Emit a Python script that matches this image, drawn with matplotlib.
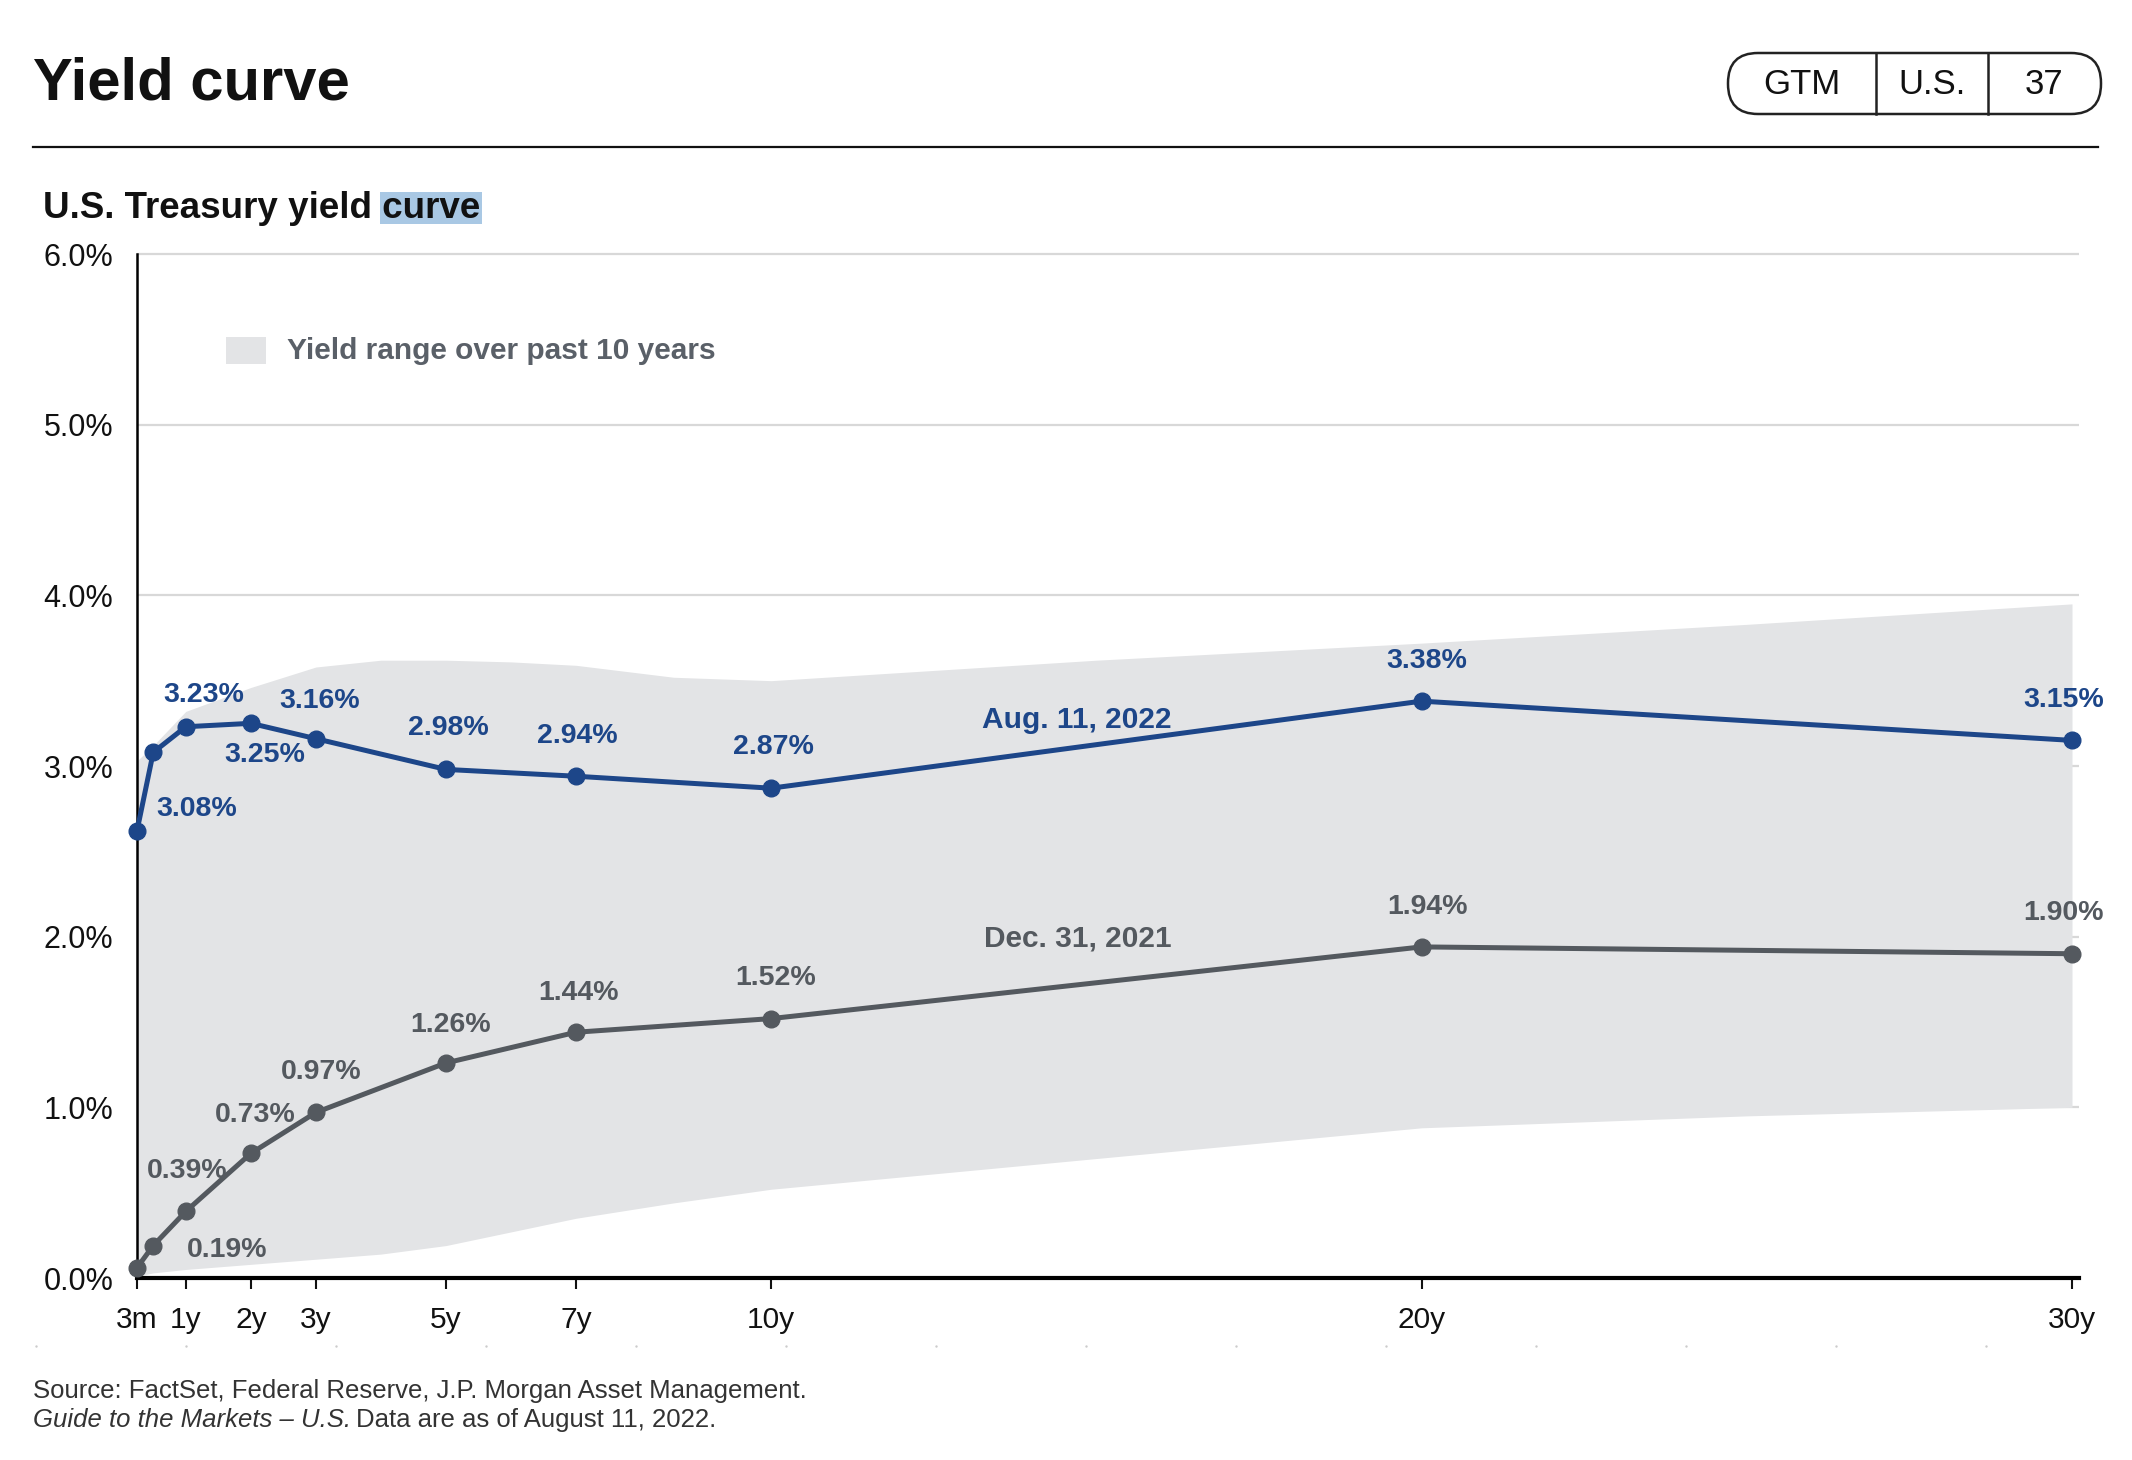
import matplotlib
matplotlib.use("Agg")
import matplotlib.pyplot as plt
from matplotlib.patches import FancyBboxPatch, Rectangle
import numpy as np

plt.rcParams['font.family'] = ['Liberation Sans', 'DejaVu Sans']

W, H, DPI = 2132, 1460, 100

# data
tenor_years = [0.25, 0.5, 1, 2, 3, 5, 7, 10, 20, 30]
aug_2022 = [2.62, 3.08, 3.23, 3.25, 3.16, 2.98, 2.94, 2.87, 3.38, 3.15]
dec_2021 = [0.06, 0.19, 0.39, 0.73, 0.97, 1.26, 1.44, 1.52, 1.94, 1.90]

# 10-year range band
band_years = [0.25, 0.5, 1, 2, 3, 4, 5, 6, 7, 8.5, 10, 15, 20, 25, 30]
band_high = [3.03, 3.12, 3.32, 3.46, 3.58, 3.62, 3.62, 3.61, 3.59, 3.52, 3.50, 3.62, 3.72, 3.83, 3.95]
band_low = [0.01, 0.03, 0.05, 0.08, 0.11, 0.14, 0.19, 0.27, 0.35, 0.44, 0.52, 0.70, 0.88, 0.95, 1.00]

tick_years = [0.25, 1, 2, 3, 5, 7, 10, 20, 30]
tick_labels = ['3m', '1y', '2y', '3y', '5y', '7y', '10y', '20y', '30y']
y_ticks = [0, 1, 2, 3, 4, 5, 6]

# label offsets (points), None = no label
aug_offsets = [None, (31, -41), (13, 23), (10, -23), (3, 27), (2, 30), (1, 29), (2, 30), (4, 29), (-6, 29)]
dec_offsets = [None, (53, -3), (1, 29), (3, 28), (4, 29), (3, 27), (2, 28), (3, 29), (4, 29), (-6, 29)]

BLUE = '#1d4689'
GREY = '#54595f'
BAND = '#e3e4e6'

fig = plt.figure(figsize=(W / DPI, H / DPI), dpi=DPI)
fig.patch.set_facecolor('white')

# pixel overlay for page furniture
bg = fig.add_axes([0, 0, 1, 1], zorder=0)
bg.set_xlim(0, W)
bg.set_ylim(H, 0)
bg.axis('off')

# main chart
x0, x30, y0px, y6px = 137, 2072, 1278, 254
xmin, xmax = 0.25, 30.1
ymax = 6.03
ax_w = (x30 - x0) * (xmax - xmin) / (30 - xmin)
ax_h = (y0px - y6px) * ymax / 6
ax = fig.add_axes([x0 / W, (H - y0px) / H, ax_w / W, ax_h / H], zorder=1)
ax.set_facecolor('none')
ax.set_xlim(xmin, xmax)
ax.set_ylim(0, ymax)

ax.set_yticks(y_ticks)
ax.set_yticklabels([f'{v:.1f}%' for v in y_ticks])
ax.set_xticks(tick_years)
ax.set_xticklabels(tick_labels)
ax.yaxis.grid(True, color='#d8d8d8', lw=1.6)
ax.set_axisbelow(True)
ax.tick_params(axis='y', length=0, pad=17, labelsize=22, colors='#111')
ax.tick_params(axis='x', length=8, width=1.5, pad=12, labelsize=21.5, colors='#111')
for s in ['top', 'right']:
    ax.spines[s].set_visible(False)
ax.spines['left'].set_linewidth(1.8)
ax.spines['bottom'].set_linewidth(3)
ax.spines['left'].set_bounds(0, 6)

ax.fill_between(band_years, band_low, band_high, color=BAND, lw=0, zorder=1)

for vals, col, offs in [(aug_2022, BLUE, aug_offsets), (dec_2021, GREY, dec_offsets)]:
    ax.plot(tenor_years, vals, color=col, lw=3.6, marker='o', ms=12,
            zorder=3, clip_on=False)
    for xv, yv, off in zip(tenor_years, vals, offs):
        if off is None:
            continue
        ax.annotate(f'{yv:.2f}%', (xv, yv), xytext=off, textcoords='offset points',
                    ha='center', va='center', fontsize=20.5, fontweight='bold',
                    color=col, zorder=4)

ax.text(14.70, 3.27, 'Aug. 11, 2022', ha='center', va='center', fontsize=21.5,
        fontweight='bold', color=BLUE, zorder=4)
ax.text(14.72, 1.99, 'Dec. 31, 2021', ha='center', va='center', fontsize=21.5,
        fontweight='bold', color=GREY, zorder=4)

# title + rule
bg.text(33, 99, 'Yield curve', fontsize=43, fontweight='bold', color='#111',
        ha='left', va='baseline')
bg.plot([33, 2098], [147, 147], color='#111', lw=1.6)

# badge
bg.add_patch(FancyBboxPatch((1728, 53), 373, 61, boxstyle='round,pad=0,rounding_size=30',
                            fc='none', ec='#222', lw=1.8))
for xd in [1876, 1988]:
    bg.plot([xd, xd], [53, 114], color='#222', lw=1.8)
for xt, s in [(1802, 'GTM'), (1932, 'U.S.'), (2044, '37')]:
    bg.text(xt, 85, s, fontsize=25, ha='center', va='center', color='#111')

# subtitle with highlighted word
fig.canvas.draw()
rend = fig.canvas.get_renderer()
sub = bg.text(43, 218, 'U.S. Treasury yield curve', fontsize=26.5, fontweight='bold',
              color='#111', ha='left', va='baseline', zorder=3)
probe = bg.text(0, 0, 'curve', fontsize=26.5, fontweight='bold', alpha=0)
ext = sub.get_window_extent(renderer=rend)
cw = probe.get_window_extent(renderer=rend).width
probe.remove()
bg.add_patch(Rectangle((ext.x1 - cw - 2, 192), cw + 4, 32, fc='#a9c8e4', ec='none', zorder=2))

# legend
bg.add_patch(Rectangle((226, 337), 40, 27, fc=BAND, ec='none'))
bg.text(287, 351, 'Yield range over past 10 years', fontsize=21.5, fontweight='bold',
        color='#5a6068', ha='left', va='center')

# faint dotted separator
dots_x = np.arange(36, 2110, 150)
bg.scatter(dots_x, np.full(len(dots_x), 1346), s=3, color='#cccccc', lw=0)

# footer
bg.text(33, 1398, 'Source: FactSet, Federal Reserve, J.P. Morgan Asset Management.',
        fontsize=18.5, color='#333', ha='left', va='baseline')
it = bg.text(33, 1427, 'Guide to the Markets \u2013 U.S.', fontsize=18.5, style='italic',
             color='#333', ha='left', va='baseline')
e2 = it.get_window_extent(renderer=rend)
x_after = bg.transData.inverted().transform((e2.x1, e2.y0))[0]
bg.text(x_after + 5, 1427, 'Data are as of August 11, 2022.', fontsize=18.5,
        color='#333', ha='left', va='baseline')

fig.savefig('out.png', dpi=DPI)
